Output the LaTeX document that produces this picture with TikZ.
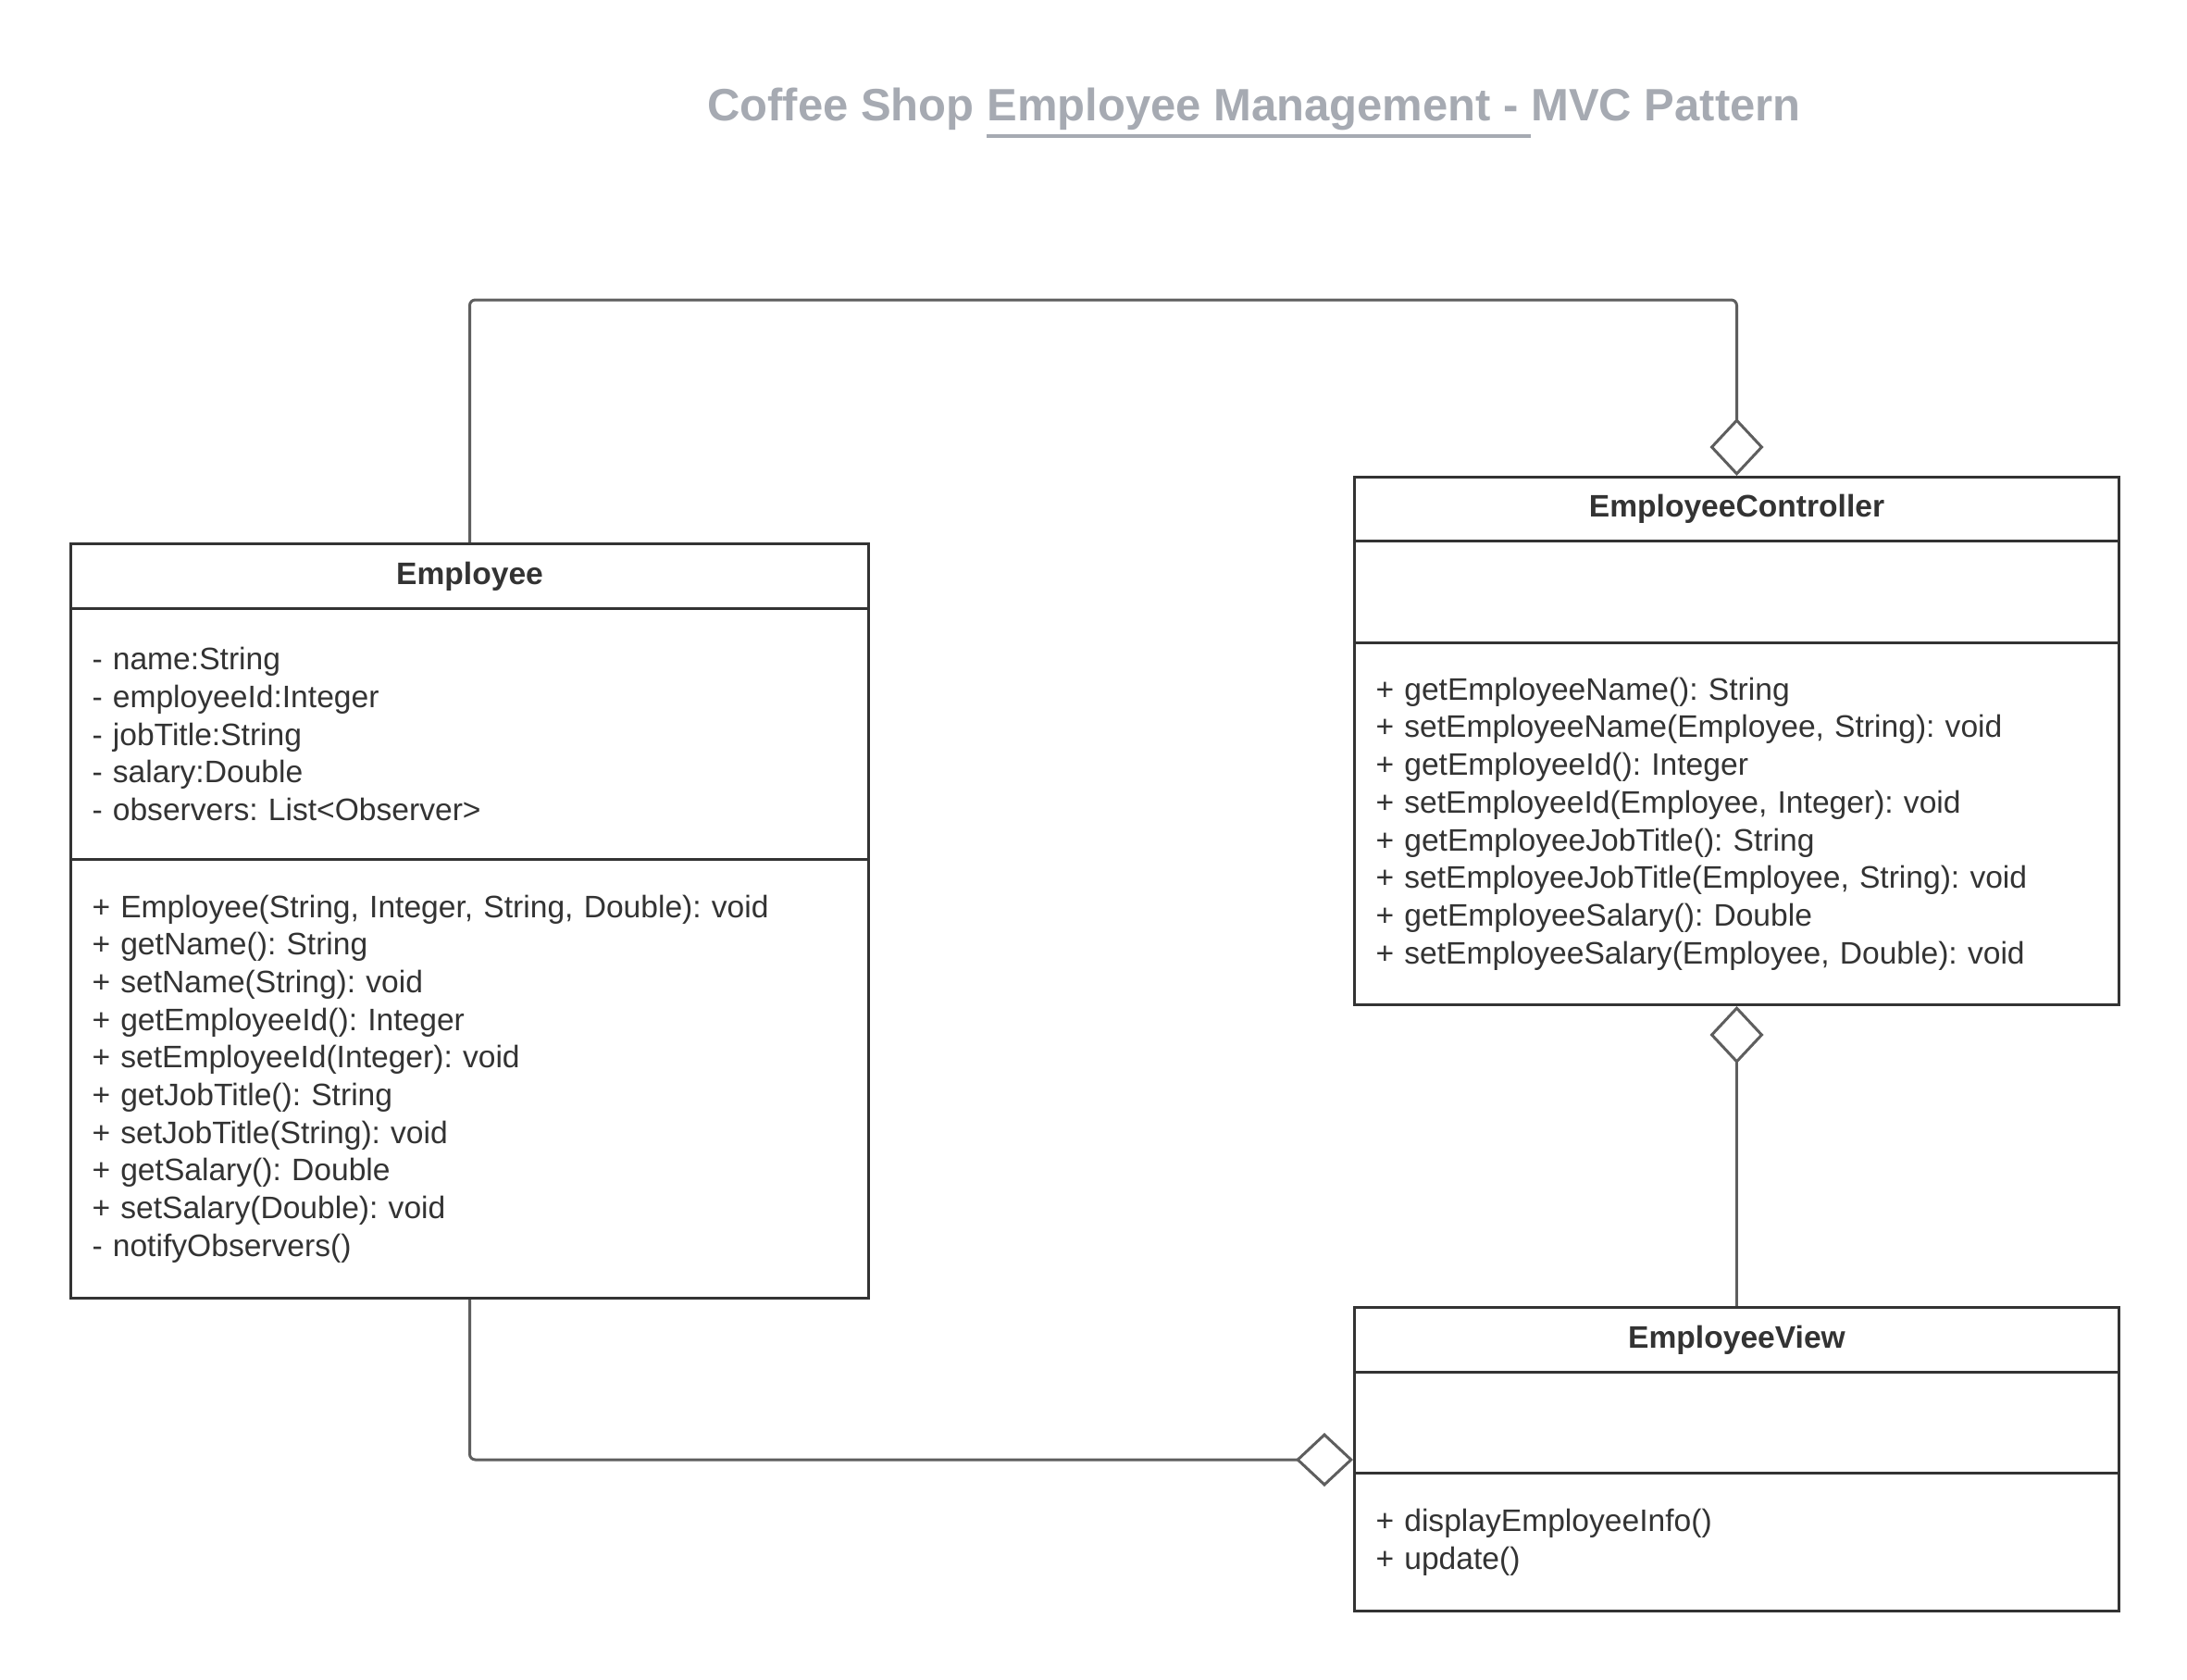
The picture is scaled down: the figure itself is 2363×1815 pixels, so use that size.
\documentclass[tikz,border=0pt]{standalone}
\usepackage{fontspec}
\setmainfont{Liberation Sans}
\usetikzlibrary{arrows,arrows.meta}
\usetikzlibrary{calc}
\definecolor{rahmen}{RGB}{51,51,51}
\definecolor{linie}{RGB}{94,94,94}
\definecolor{titel}{RGB}{166,170,178}
\newcommand{\titelstrich}[1]{\setbox0=\hbox{#1}\rlap{\rule[-9pt]{\wd0}{2pt}}\box0}
\frenchspacing

\begin{document}
\begin{tikzpicture}[x=0.5pt, y=0.5pt, yscale=-1,
    kopf/.style={draw=rahmen, line width=1.5pt, anchor=north west, text=rahmen, inner sep=0pt, font=\fontsize{16.8}{20.35}\selectfont\bfseries},
    feld/.style={draw=rahmen, line width=1.5pt, anchor=north west, text=rahmen, inner xsep=11.5pt, inner ysep=0pt, align=left, font=\fontsize{16.8}{20.35}\selectfont},
    verb/.style={linie, line width=1.5pt, rounded corners=3pt},
    agg/.style={verb, -{Diamond[open, length=31pt, width=29pt, line join=miter]}}]
        \useasboundingbox (0,0) rectangle (2363,1815);

        \node[text=titel, font=\fontsize{24.5}{29}\selectfont\bfseries] (T) at (1355,122) {Coffee Shop \titelstrich{Employee Management - }MVC Pattern};

        \node[kopf, minimum width=431pt, minimum height=35pt] (E1) at (75,586) {Employee};
        \node[feld, text width=408pt, minimum height=135.5pt] (E2) at (75,656) {- name:String\\- employeeId:Integer\\- jobTitle:String\\- salary:Double\\- observers: List<Observer>};
        \node[feld, text width=408pt, minimum height=237pt] (E3) at (75,927) {+ Employee(String, Integer, String, Double): void\\+ getName(): String\\+ setName(String): void\\+ getEmployeeId(): Integer\\+ setEmployeeId(Integer): void\\+ getJobTitle(): String\\+ setJobTitle(String): void\\+ getSalary(): Double\\+ setSalary(Double): void\\- notifyObservers()};

        \node[kopf, minimum width=413pt, minimum height=34.5pt] (C1) at (1462,514) {EmployeeController};
        \node[feld, text width=390pt, minimum height=55pt] (C2) at (1462,583) {};
        \node[feld, text width=390pt, minimum height=195.5pt] (C3) at (1462,693) {+ getEmployeeName(): String\\+ setEmployeeName(Employee, String): void\\+ getEmployeeId(): Integer\\+ setEmployeeId(Employee, Integer): void\\+ getEmployeeJobTitle(): String\\+ setEmployeeJobTitle(Employee, String): void\\+ getEmployeeSalary(): Double\\+ setEmployeeSalary(Employee, Double): void};

        \node[kopf, minimum width=413pt, minimum height=35pt] (V1) at (1462,1411) {EmployeeView};
        \node[feld, text width=390pt, minimum height=54.5pt] (V2) at (1462,1481) {};
        \node[feld, text width=390pt, minimum height=74.5pt] (V3) at (1462,1590) {+ displayEmployeeInfo()\\+ update()};

        \draw[agg] (E1.north) -- ++(0,-262) -| (C1.north);
        \draw[agg] (V1.north) -- (C3.south);
        \draw[agg] (E3.south) |- ($(V2.west)+(0,40)$);

\end{tikzpicture}
\end{document}
